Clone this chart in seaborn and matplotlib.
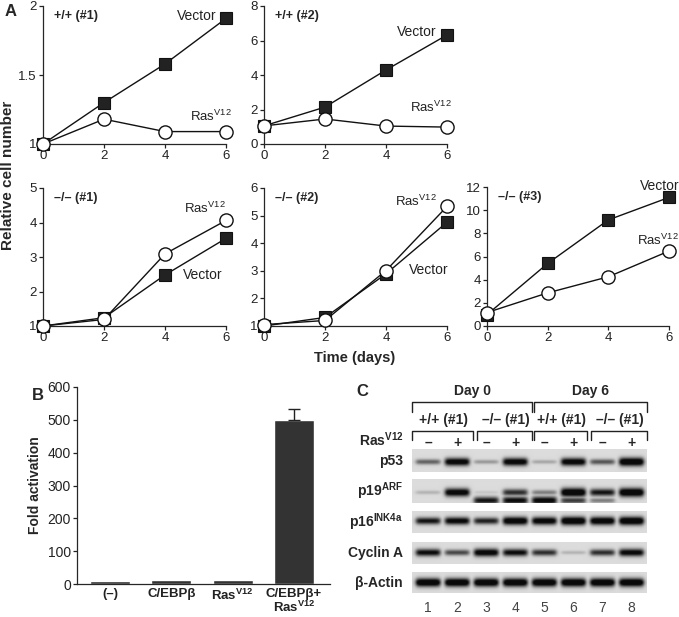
import numpy as np
import pandas as pd
import seaborn as sns
import matplotlib.pyplot as plt
from matplotlib.ticker import FuncFormatter

# ---- data ----
days = [0, 2, 4, 6]
wt1_vector = [1.0, 1.30, 1.58, 1.91]
wt1_ras = [1.0, 1.18, 1.09, 1.09]
wt2_vector = [1.05, 2.14, 4.29, 6.32]
wt2_ras = [1.05, 1.45, 1.04, 0.98]
ko1_vector = [1.0, 1.24, 2.48, 3.54]
ko1_ras = [1.0, 1.19, 3.09, 4.06]
ko2_vector = [1.0, 1.31, 2.89, 4.76]
ko2_ras = [1.05, 1.2, 3.01, 5.33]
ko3_vector = [0.98, 5.4, 9.16, 11.1]
ko3_ras = [1.16, 2.86, 4.25, 6.47]

bar_labels = ['(–)', 'C/EBPβ', r'Ras$^{\mathbf{V12}}$', 'C/EBPβ+\n' + r'Ras$^{\mathbf{V12}}$']
bar_values = [10, 13, 13, 500]
bar_err = [0, 0, 0, 33]

lane_numbers = ['1', '2', '3', '4', '5', '6', '7', '8']
ras_status = ['–', '+', '–', '+', '–', '+', '–', '+']
genotypes = ['+/+ (#1)', '–/– (#1)', '+/+ (#1)', '–/– (#1)']
day_labels = ['Day 0', 'Day 6']
p53_level = [0.45, 0.9, 0.25, 0.9, 0.2, 0.9, 0.5, 1.0]
p19_upper = [0.15, 0.9, 0.08, 0.65, 0.35, 1.0, 0.75, 1.0]
p19_lower = [0.0, 0.0, 0.75, 0.8, 0.85, 0.6, 0.35, 0.0]
p16_level = [0.75, 0.85, 0.7, 0.95, 0.9, 1.0, 0.95, 1.0]
cyclin_level = [0.8, 0.55, 0.9, 0.8, 0.65, 0.15, 0.65, 0.85]
actin_level = [1.0, 1.0, 1.0, 1.0, 1.0, 1.0, 1.0, 1.0]

sns.set_style('ticks')
plt.rcParams['font.family'] = ['Liberation Sans', 'DejaVu Sans']
plt.rcParams['mathtext.fontset'] = 'custom'
plt.rcParams['mathtext.rm'] = 'Liberation Sans'
plt.rcParams['mathtext.bf'] = 'Liberation Sans:bold'
plt.rcParams['axes.linewidth'] = 0.9
plt.rcParams['xtick.major.width'] = 0.9
plt.rcParams['ytick.major.width'] = 0.9
plt.rcParams['xtick.major.size'] = 3
plt.rcParams['ytick.major.size'] = 3
plt.rcParams['xtick.color'] = '#222222'
plt.rcParams['ytick.color'] = '#222222'

W, H = 679, 617
fig = plt.figure(figsize=(W / 100, H / 100), dpi=100)


def px_axes(x0, y0, x1, y1):
    return fig.add_axes([x0 / W, 1 - y1 / H, (x1 - x0) / W, (y1 - y0) / H])


fmt = FuncFormatter(lambda v, p: '{:g}'.format(v))

# ---- panel A ----
panels = [
    ((43, 6, 226, 144), wt1_vector, wt1_ras, (1, 2), [1, 1.5, 2], '+/+ (#1)',
     (5.7, 1.93, 'right'), (6.2, 1.2, 'right')),
    ((264, 6, 447, 144), wt2_vector, wt2_ras, (0, 8), [0, 2, 4, 6, 8], '+/+ (#2)',
     (5.65, 6.5, 'right'), (6.15, 2.1, 'right')),
    ((43, 188, 226, 326), ko1_vector, ko1_ras, (1, 5), [1, 2, 3, 4, 5], '–/– (#1)',
     (4.6, 2.48, 'left'), (6.0, 4.42, 'right')),
    ((264, 188, 447, 326), ko2_vector, ko2_ras, (1, 6), [1, 2, 3, 4, 5, 6], '–/– (#2)',
     (4.75, 3.03, 'left'), (4.3, 5.5, 'left')),
    ((487, 187, 669, 326), ko3_vector, ko3_ras, (0, 12), [0, 2, 4, 6, 8, 10, 12], '–/– (#3)',
     (6.35, 12.1, 'right'), (4.95, 7.4, 'left')),
]

for box, vec, ras, ylim, yticks, title, vpos, rpos in panels:
    ax = px_axes(*box)
    sns.lineplot(x=days, y=vec, ax=ax, color='#111111', lw=1.0, marker='s', markersize=8,
                 markerfacecolor='#222222', markeredgecolor='#111111', markeredgewidth=0.8,
                 clip_on=False, zorder=4)
    sns.lineplot(x=days, y=ras, ax=ax, color='#111111', lw=1.0, marker='o', markersize=9.5,
                 markerfacecolor='white', markeredgecolor='#111111', markeredgewidth=1.0,
                 clip_on=False, zorder=5)
    ax.set_xlim(0, 6)
    ax.set_ylim(*ylim)
    ax.set_xticks([0, 2, 4, 6])
    ax.set_yticks(yticks)
    ax.yaxis.set_major_formatter(fmt)
    ax.tick_params(labelsize=9.5, pad=1.5)
    ax.set_xlabel('')
    ax.set_ylabel('')
    sns.despine(ax=ax)
    ax.text(0.06, 0.93, title, transform=ax.transAxes, fontsize=9, fontweight='bold',
            va='center', ha='left')
    ax.text(vpos[0], vpos[1], 'Vector', fontsize=10, color='#222222', ha=vpos[2], va='center')
    ax.text(rpos[0], rpos[1], r'Ras$^{\mathrm{V12}}$', fontsize=9.5, color='#222222',
            ha=rpos[2], va='center')

fig.text(8 / W, 1 - 175 / H, 'Relative cell number', rotation=90, fontsize=11,
         fontweight='bold', ha='center', va='center')
fig.text(355 / W, 1 - 358 / H, 'Time (days)', fontsize=10.5, fontweight='bold',
         ha='center', va='center')
fig.text(5 / W, 1 - 11 / H, 'A', fontsize=12, fontweight='bold', ha='left', va='center')

# ---- panel B ----
axb = px_axes(77, 387, 330, 584)
bar_df = pd.DataFrame({'cond': bar_labels, 'value': bar_values})
sns.barplot(data=bar_df, x='cond', y='value', color='#333333', width=0.65,
            saturation=1, ax=axb, errorbar=None)
err_idx = [i for i, e in enumerate(bar_err) if e > 0]
axb.errorbar(err_idx, [bar_values[i] for i in err_idx],
             yerr=[[0] * len(err_idx), [bar_err[i] for i in err_idx]], fmt='none',
             ecolor='#222222', elinewidth=1.0, capsize=4, capthick=1.0)
axb.set_ylim(0, 600)
axb.set_xlim(-0.54, 3.59)
axb.set_yticks(range(0, 601, 100))
axb.set_xlabel('')
axb.set_ylabel('Fold activation', fontsize=10, fontweight='bold', labelpad=4)
axb.tick_params(axis='y', labelsize=10, pad=1.5)
axb.tick_params(axis='x', length=0, pad=3)
for lab in axb.get_xticklabels():
    lab.set_fontweight('bold')
    lab.set_fontsize(9.5)
    lab.set_linespacing(1.0)
sns.despine(ax=axb)
fig.text(38 / W, 1 - 395 / H, 'B', fontsize=12, fontweight='bold', ha='center', va='center')

# ---- panel C (western blot) ----
axc = px_axes(340, 380, 679, 617)
axc.axis('off')
box_x0, box_x1 = 72, 307
lane_x = 88 + 29.1 * np.arange(8)


def blot_image(bands, height, res=3):
    width = box_x1 - box_x0
    xs = np.linspace(0, width, width * res)
    ys = np.linspace(0, height, int(height * res))
    X, Y = np.meshgrid(xs, ys)
    dark = np.zeros_like(X)
    for yc, levels in bands:
        for i, lv in enumerate(levels):
            if lv <= 0:
                continue
            cx = lane_x[i] - box_x0
            hw = 12
            horiz = 0.5 * (np.tanh((X - cx + hw) / 2.4) - np.tanh((X - cx - hw) / 2.4))
            sig = 1.0 + 2.0 * lv
            vert = np.exp(-0.5 * ((Y - yc * height) / sig) ** 2)
            dark = np.maximum(dark, lv * horiz * vert)
    return 0.86 - 0.82 * np.clip(dark * 1.3, 0, 1)


rows = [
    ('p53', 69, 92, [(0.56, p53_level)]),
    (r'p19$^{\mathbf{ARF}}$', 100, 123, [(0.56, p19_upper), (0.9, p19_lower)]),
    (r'p16$^{\mathbf{INK4a}}$', 131, 153, [(0.45, p16_level)]),
    ('Cyclin A', 162, 184, [(0.48, cyclin_level)]),
    ('β-Actin', 192, 213, [(0.5, actin_level)]),
]
for name, y0, y1, bands in rows:
    img = blot_image(bands, y1 - y0)
    axc.imshow(img, cmap='gray', vmin=0, vmax=1, extent=(box_x0, box_x1, y1, y0),
               aspect='auto', interpolation='bilinear')
    axc.text(63, (y0 + y1) / 2, name, fontsize=10, fontweight='bold', ha='right', va='center')

for i, num in enumerate(lane_numbers):
    axc.text(lane_x[i], 228, num, fontsize=10, color='#444444', ha='center', va='center')
    axc.text(lane_x[i], 63, ras_status[i], fontsize=10, fontweight='bold', ha='center',
             va='center')
axc.text(64, 60, r'Ras$^{\mathbf{V12}}$', fontsize=10, fontweight='bold', ha='right',
         va='center')

# brackets
day_spans = [(72, 192), (194, 307)]
for (a, b), lab in zip(day_spans, day_labels):
    axc.plot([a, a, b, b], [32, 22, 22, 32], color='#222222', lw=1.0)
    axc.text((a + b) / 2, 11, lab, fontsize=10, fontweight='bold', ha='center', va='center')
geno_spans = [(72, 133), (137, 192), (194, 247), (251, 307)]
for (a, b), lab in zip(geno_spans, genotypes):
    axc.plot([a, a, b, b], [60, 51, 51, 60], color='#222222', lw=1.0)
    axc.text((a + b) / 2 + 1, 40, lab, fontsize=10, fontweight='bold', ha='center',
             va='center')
axc.text(22, 12, 'C', fontsize=12, fontweight='bold', ha='center', va='center')
axc.set_xlim(0, 339)
axc.set_ylim(237, 0)

fig.savefig('out.png', dpi=100)
